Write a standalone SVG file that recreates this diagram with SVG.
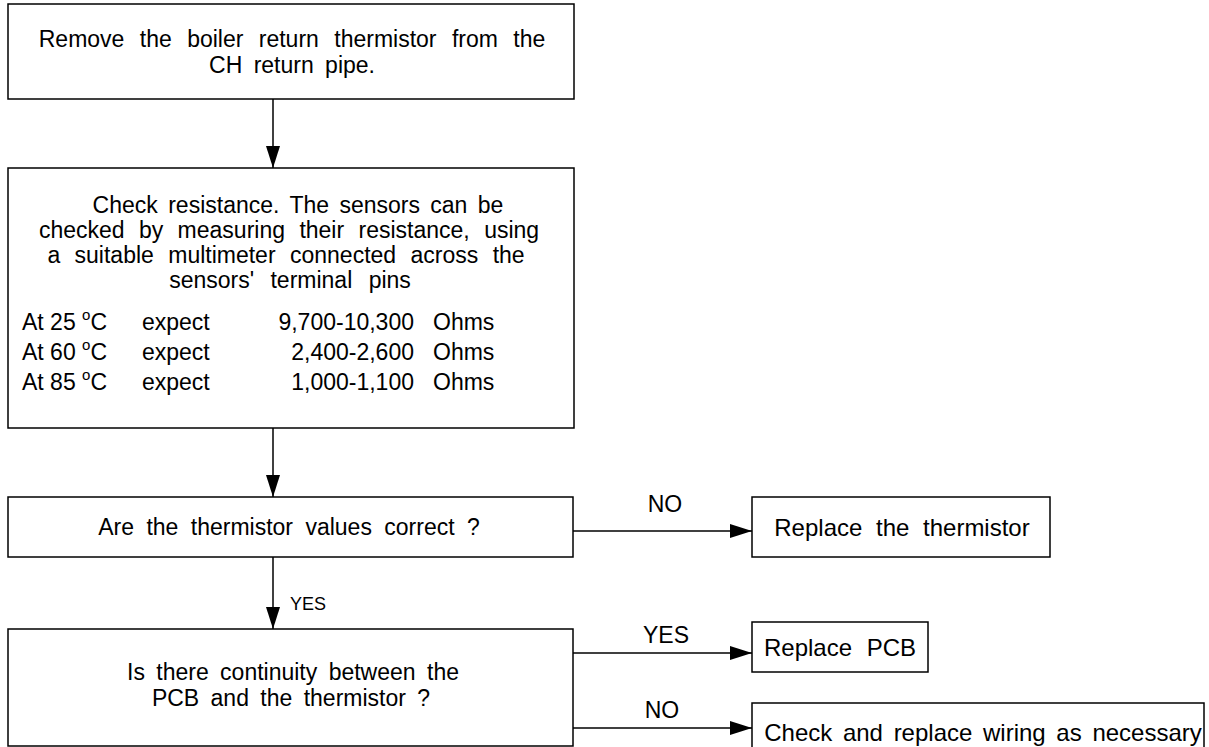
<svg xmlns="http://www.w3.org/2000/svg" width="1209" height="747" viewBox="0 0 1209 747">
<style>
.box{fill:#fff;stroke:#000;stroke-width:1.5}
.ln{stroke:#000;stroke-width:1.5;fill:none}
.t{font-family:"Liberation Sans",Arial,sans-serif;font-size:23px;fill:#000}
.r{font-family:"Liberation Sans",Arial,sans-serif;font-size:24px;fill:#000}
.c{text-anchor:middle}
.e{text-anchor:end}
.lb{font-family:"Liberation Sans",Arial,sans-serif;font-size:18px;fill:#000}
.lr{font-family:"Liberation Sans",Arial,sans-serif;font-size:23px;fill:#000;text-anchor:middle}
</style>
<defs>
<marker id="ah" markerWidth="22" markerHeight="14" refX="22" refY="7" orient="auto" markerUnits="userSpaceOnUse">
<path d="M0,0 L22,7 L0,14 Z" fill="#000"/>
</marker>
</defs>
<rect width="1209" height="747" fill="#fff"/>
<g id="connectors">
<line class="ln" x1="273" y1="99" x2="273" y2="168" marker-end="url(#ah)"/>
<line class="ln" x1="273" y1="428" x2="273" y2="497" marker-end="url(#ah)"/>
<line class="ln" x1="273" y1="557" x2="273" y2="629" marker-end="url(#ah)"/>
<line class="ln" x1="573" y1="531" x2="752" y2="531" marker-end="url(#ah)"/>
<line class="ln" x1="573" y1="653" x2="752" y2="653" marker-end="url(#ah)"/>
<line class="ln" x1="573" y1="728" x2="752" y2="728" marker-end="url(#ah)"/>
<text class="lb" x="290" y="610">YES</text>
<text class="lr" x="665" y="512">NO</text>
<text class="lr" x="666" y="643">YES</text>
<text class="lr" x="662" y="718">NO</text>
</g>
<g id="n1">
<rect class="box" x="8" y="4" width="566" height="95"/>
<text class="t c" x="292" y="47" style="word-spacing:9px">Remove the boiler return thermistor from the</text>
<text class="t c" x="292" y="73" style="word-spacing:5px">CH return pipe.</text>
</g>
<g id="n2">
<rect class="box" x="8" y="168" width="566" height="260"/>
<text class="t c" x="298" y="213" style="word-spacing:4px">Check resistance. The sensors can be</text>
<text class="t c" x="289" y="238" style="word-spacing:8px">checked by measuring their resistance, using</text>
<text class="t c" x="286" y="263" style="word-spacing:8px">a suitable multimeter connected across the</text>
<text class="t c" x="290" y="288" style="word-spacing:10px">sensors' terminal pins</text>
<text class="t" x="22" y="330">At 25 <tspan font-size="15" dy="-10">o</tspan><tspan dy="10">C</tspan></text>
<text class="t" x="142" y="330">expect</text>
<text class="t e" x="414" y="330">9,700-10,300</text>
<text class="t" x="433" y="330">Ohms</text>
<text class="t" x="22" y="360">At 60 <tspan font-size="15" dy="-10">o</tspan><tspan dy="10">C</tspan></text>
<text class="t" x="142" y="360">expect</text>
<text class="t e" x="414" y="360">2,400-2,600</text>
<text class="t" x="433" y="360">Ohms</text>
<text class="t" x="22" y="390">At 85 <tspan font-size="15" dy="-10">o</tspan><tspan dy="10">C</tspan></text>
<text class="t" x="142" y="390">expect</text>
<text class="t e" x="414" y="390">1,000-1,100</text>
<text class="t" x="433" y="390">Ohms</text>
</g>
<g id="n3">
<rect class="box" x="8" y="497" width="565" height="60"/>
<text class="t c" x="289" y="535" style="word-spacing:6px">Are the thermistor values correct ?</text>
</g>
<g id="n4">
<rect class="box" x="752" y="497" width="298" height="60"/>
<text class="r c" x="902" y="536" style="word-spacing:7px">Replace the thermistor</text>
</g>
<g id="n5">
<rect class="box" x="8" y="629" width="565" height="117"/>
<text class="t c" x="293" y="680" style="word-spacing:5px">Is there continuity between the</text>
<text class="t c" x="291" y="706" style="word-spacing:5px">PCB and the thermistor ?</text>
</g>
<g id="n6">
<rect class="box" x="752" y="622" width="176" height="50"/>
<text class="r c" x="840" y="656" style="word-spacing:8px">Replace PCB</text>
</g>
<g id="n7">
<rect class="box" x="752" y="703" width="452" height="50"/>
<text class="r c" x="983" y="741" style="word-spacing:4px">Check and replace wiring as necessary</text>
</g>
</svg>
